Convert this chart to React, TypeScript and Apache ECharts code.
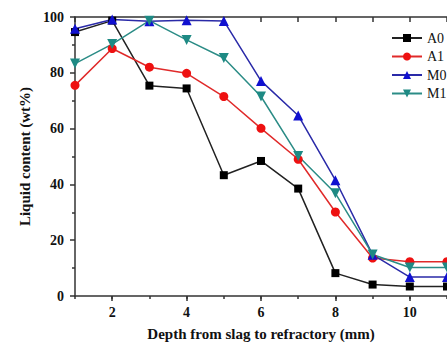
import React, { useEffect, useRef } from "react";
import * as echarts from "echarts";

const depths = [1, 2, 3, 4, 5, 6, 7, 8, 9, 10, 11];
const a0 = [94.6, 98.7, 75.4, 74.4, 43.3, 48.4, 38.5, 8.2, 4.1, 3.4, 3.4];
const a1 = [75.5, 88.7, 82.0, 79.8, 71.5, 60.1, 49.0, 30.1, 13.6, 12.3, 12.3];
const m0 = [95.8, 99.1, 98.5, 98.8, 98.6, 77.1, 64.7, 41.5, 14.8, 6.8, 6.8];
const m1 = [83.3, 90.3, 98.7, 91.8, 85.3, 71.5, 50.2, 36.8, 14.9, 10.2, 10.2];
const majorX = [2, 4, 6, 8, 10];
const seriesNames = ["A0", "A1", "M0", "M1"];

const serif = "'Liberation Serif', 'Times New Roman', serif";

export default function App() {
  const ref = useRef<HTMLDivElement>(null);
  useEffect(() => {
    if (!ref.current) return;
    const chart = echarts.init(ref.current, null, { renderer: "svg" });
    const mk = (name: string, vals: number[], color: string, lineColor: string, symbol: string, size: number, rotate = 0) => ({
      name,
      type: "line",
      data: depths.map((d, i) => [d, vals[i]]),
      symbol,
      symbolSize: size,
      symbolRotate: rotate,
      showAllSymbol: true,
      itemStyle: { color },
      lineStyle: { color: lineColor, width: 1.5 },
      xAxisIndex: 0,
      yAxisIndex: 0,
    });
    const axisLineStyle = { color: "#333", width: 1.5 };
    chart.setOption({
      animation: false,
      grid: { left: 75, top: 17, right: -6, bottom: 51, containLabel: false },
      legend: {
        orient: "vertical",
        left: 386,
        top: 26,
        itemWidth: 30,
        itemHeight: 10,
        itemGap: 4.5,
        data: seriesNames,
        textStyle: { fontFamily: serif, fontSize: 14, color: "#111", lineHeight: 14 },
      },
      xAxis: [
        {
          type: "value",
          min: 1,
          max: 11,
          position: "bottom",
          name: "Depth from slag to refractory (mm)",
          nameLocation: "middle",
          nameGap: 30,
          nameTextStyle: { fontFamily: serif, fontSize: 15, fontWeight: "bold", color: "#111" },
          axisLine: { show: true, lineStyle: axisLineStyle },
          axisTick: { show: true, length: 5, inside: false, customValues: majorX, lineStyle: axisLineStyle },
          axisLabel: { customValues: majorX, fontFamily: serif, fontSize: 14, fontWeight: "bold", color: "#111", margin: 9 },
          splitLine: { show: false },
        },
        {
          type: "value",
          min: 1,
          max: 11,
          interval: 1,
          position: "bottom",
          axisLine: { show: false },
          axisTick: { show: true, length: 3, inside: false, lineStyle: axisLineStyle },
          axisLabel: { show: false },
          splitLine: { show: false },
        },
        {
          type: "value",
          min: 1,
          max: 11,
          interval: 1,
          position: "top",
          axisLine: { show: true, lineStyle: axisLineStyle },
          axisTick: { show: true, length: 5, inside: true, lineStyle: axisLineStyle },
          axisLabel: { show: false },
          splitLine: { show: false },
        },
      ],
      yAxis: [
        {
          type: "value",
          min: 0,
          max: 100,
          interval: 20,
          name: "Liquid content (wt%)",
          nameLocation: "middle",
          nameGap: 42,
          nameTextStyle: { fontFamily: serif, fontSize: 15, fontWeight: "bold", color: "#111" },
          axisLine: { show: true, lineStyle: axisLineStyle },
          axisTick: { show: true, length: 5, inside: false, lineStyle: axisLineStyle },
          minorTick: { show: true, splitNumber: 2, length: 3, lineStyle: axisLineStyle },
          axisLabel: { fontFamily: serif, fontSize: 14, fontWeight: "bold", color: "#111", margin: 11 },
          splitLine: { show: false },
        },
      ],
      series: [
        mk("A0", a0, "#000000", "#222222", "rect", 8),
        mk("A1", a1, "#ee1111", "#e02a2a", "circle", 9),
        mk("M0", m0, "#1010d0", "#2a2aa8", "triangle", 10),
        mk("M1", m1, "#1e8a84", "#2b8c86", "triangle", 10, 180),
      ],
    });
    return () => chart.dispose();
  }, []);
  return <div ref={ref} style={{ position: "fixed", left: 0, top: 0, width: 447, height: 347, background: "#fff" }} />;
}
